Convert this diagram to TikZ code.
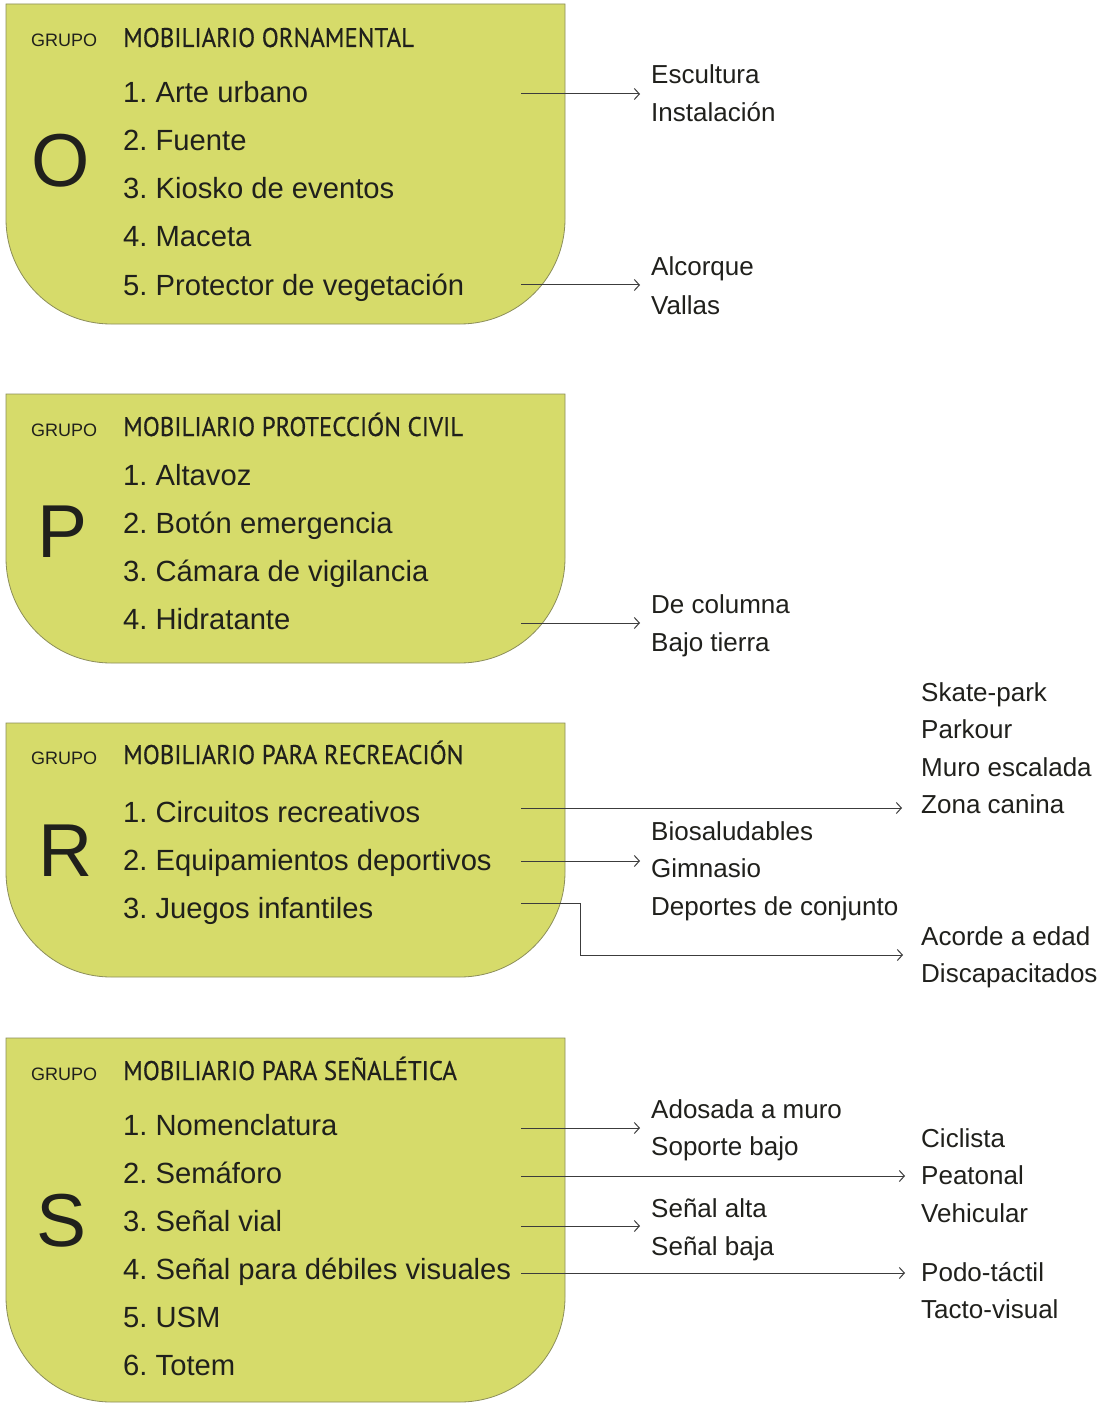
\documentclass[tikz,border=0pt]{standalone}
\usepackage{fontspec}
\setmainfont{Liberation Sans}
\newfontfamily\titlefont[FakeStretch=0.92,FakeBold=0.4]{PT Sans}
\usetikzlibrary{arrows.meta}
\definecolor{boxfill}{RGB}{214,219,106}
\definecolor{boxline}{RGB}{140,142,90}
\definecolor{ink}{RGB}{32,32,28}
\definecolor{arrowc}{RGB}{60,60,60}
\tikzset{
 grp/.style={anchor=base west, inner sep=0pt, font=\fontsize{18}{18}\selectfont, text=ink},
 ttl/.style={anchor=base west, inner sep=0pt, font=\titlefont\fontsize{27}{27}\selectfont, text=ink},
 item/.style={anchor=base west, inner sep=0pt, font=\fontsize{29.2}{29.2}\selectfont, text=ink},
 lbl/.style={anchor=base west, inner sep=0pt, font=\fontsize{26}{26}\selectfont, text=ink},
 big/.style={inner sep=0pt, font=\fontsize{75}{75}\selectfont, text=ink},
 arr/.style={draw=arrowc, line width=1pt, -{Straight Barb[length=5pt,width=11pt]}},
 panel/.style={fill=boxfill, draw=boxline, line width=0.8pt},
}
\newcommand\panelbox[2]{\path[panel] (6,#1) -- (565,#1) -- (565,#2-105) arc[start angle=0,end angle=90,radius=105] -- (111,#2) arc[start angle=90,end angle=180,radius=105] -- cycle;}
\frenchspacing
\begin{document}
\begin{tikzpicture}[x=1pt,y=-1pt]
\useasboundingbox (0,0) rectangle (1111,1404);
\fill[white] (0,0) rectangle (1111,1404);
% ---------- panels
\panelbox{4}{324}
\panelbox{394}{663}
\panelbox{723}{977}
\panelbox{1038}{1402}
% ---------- O
\node[grp] (gO) at (31,47) {GRUPO};
\node[ttl] (tO) at (123,47) {MOBILIARIO ORNAMENTAL};
\node[big] (LO) at (61,161) {O};
\node[item] (o1) at (123,103) {1. Arte urbano};
\node[item] (o2) at (123,151) {2. Fuente};
\node[item] (o3) at (123,199) {3. Kiosko de eventos};
\node[item] (o4) at (123,247) {4. Maceta};
\node[item] (o5) at (123,295) {5. Protector de vegetación};
\node[lbl] (o1a) at (651,84) {Escultura};
\node[lbl] (o1b) at (651,122) {Instalación};
\node[lbl] (o5a) at (651,276) {Alcorque};
\node[lbl] (o5b) at (651,314) {Vallas};
\coordinate (o1s) at (521,94); \coordinate (o1e) at (640,94);
\coordinate (o5s) at (521,285); \coordinate (o5e) at (640,285);
\draw[arr] (o1s) -- (o1e);
\draw[arr] (o5s) -- (o5e);
% ---------- P
\node[grp] (gP) at (31,436) {GRUPO};
\node[ttl] (tP) at (123,436) {MOBILIARIO PROTECCIÓN CIVIL};
\node[big] (LP) at (63,532) {P};
\node[item] (p1) at (123,485) {1. Altavoz};
\node[item] (p2) at (123,533) {2. Botón emergencia};
\node[item] (p3) at (123,581) {3. Cámara de vigilancia};
\node[item] (p4) at (123,629) {4. Hidratante};
\node[lbl] (p4a) at (651,613) {De columna};
\node[lbl] (p4b) at (651,651) {Bajo tierra};
\coordinate (p4s) at (521,623); \coordinate (p4e) at (640,623);
\draw[arr] (p4s) -- (p4e);
% ---------- R
\node[grp] (gR) at (31,764) {GRUPO};
\node[ttl] (tR) at (123,764) {MOBILIARIO PARA RECREACIÓN};
\node[big] (LR) at (66,851) {R};
\node[item] (r1) at (123,822) {1. Circuitos recreativos};
\node[item] (r2) at (123,870) {2. Equipamientos deportivos};
\node[item] (r3) at (123,918) {3. Juegos infantiles};
\node[lbl] (r1a) at (921,701) {Skate-park};
\node[lbl] (r1b) at (921,738) {Parkour};
\node[lbl] (r1c) at (921,776) {Muro escalada};
\node[lbl] (r1d) at (921,813) {Zona canina};
\node[lbl] (r2a) at (651,840) {Biosaludables};
\node[lbl] (r2b) at (651,877) {Gimnasio};
\node[lbl] (r2c) at (651,915) {Deportes de conjunto};
\node[lbl] (r3a) at (921,945) {Acorde a edad};
\node[lbl] (r3b) at (921,982) {Discapacitados};
\coordinate (r1s) at (521,808); \coordinate (r1e) at (902,808);
\coordinate (r2s) at (521,861); \coordinate (r2e) at (640,861);
\coordinate (r3s) at (521,903); \coordinate (r3k) at (580,955); \coordinate (r3e) at (903,955);
\draw[arr] (r1s) -- (r1e);
\draw[arr] (r2s) -- (r2e);
\draw[arr] (r3s) -| (r3k) -- (r3e);
% ---------- S
\node[grp] (gS) at (31,1080) {GRUPO};
\node[ttl] (tS) at (123,1080) {MOBILIARIO PARA SEÑALÉTICA};
\node[big] (LS) at (62,1221) {S};
\node[item] (s1) at (123,1135) {1. Nomenclatura};
\node[item] (s2) at (123,1183) {2. Semáforo};
\node[item] (s3) at (123,1231) {3. Señal vial};
\node[item] (s4) at (123,1279) {4. Señal para débiles visuales};
\node[item] (s5) at (123,1327) {5. USM};
\node[item] (s6) at (123,1375) {6. Totem};
\node[lbl] (s1a) at (651,1118) {Adosada a muro};
\node[lbl] (s1b) at (651,1155) {Soporte bajo};
\node[lbl] (s2a) at (921,1147) {Ciclista};
\node[lbl] (s2b) at (921,1184) {Peatonal};
\node[lbl] (s2c) at (921,1222) {Vehicular};
\node[lbl] (s3a) at (651,1217) {Señal alta};
\node[lbl] (s3b) at (651,1255) {Señal baja};
\node[lbl] (s4a) at (921,1281) {Podo-táctil};
\node[lbl] (s4b) at (921,1318) {Tacto-visual};
\coordinate (s1s) at (521,1128); \coordinate (s1e) at (640,1128);
\coordinate (s2s) at (521,1176); \coordinate (s2e) at (905,1176);
\coordinate (s3s) at (521,1226); \coordinate (s3e) at (640,1226);
\coordinate (s4s) at (521,1273); \coordinate (s4e) at (905,1273);
\draw[arr] (s1s) -- (s1e);
\draw[arr] (s2s) -- (s2e);
\draw[arr] (s3s) -- (s3e);
\draw[arr] (s4s) -- (s4e);
\end{tikzpicture}
\end{document}
